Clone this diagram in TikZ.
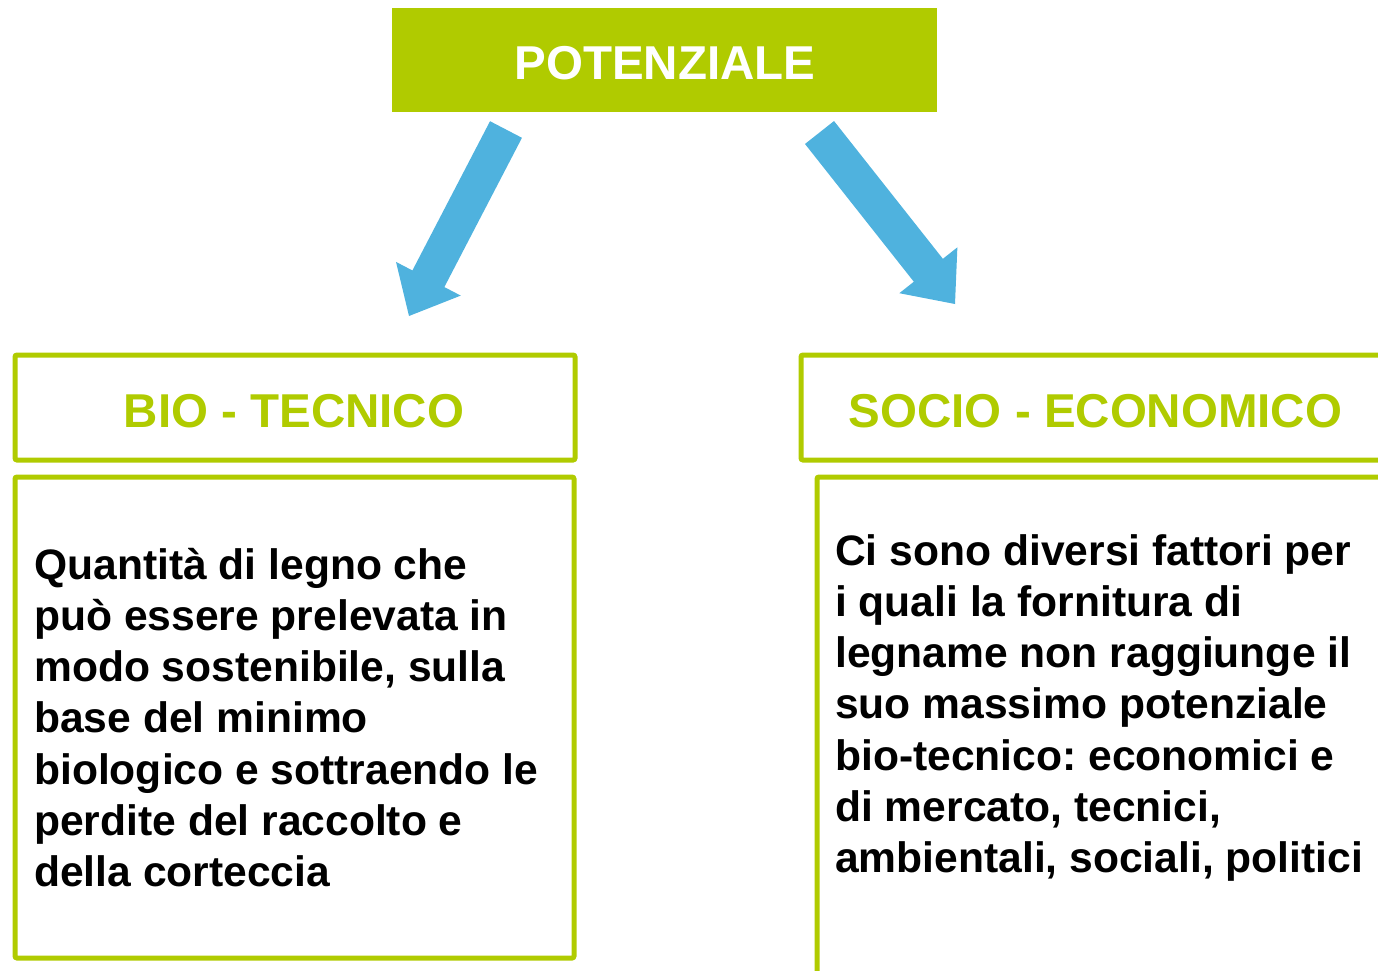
\documentclass[tikz,border=0pt]{standalone}
\usepackage{fontspec}
\setmainfont{Liberation Sans}
\usetikzlibrary{calc}
\definecolor{lime}{RGB}{176,203,0}
\definecolor{arrblue}{RGB}{79,178,222}
\frenchspacing
\begin{document}
\begin{tikzpicture}[x=1pt,y=-1pt,
  box/.style={draw=lime,line width=5pt,rounded corners=2pt,inner sep=0pt},
  ttl/.style={font=\fontsize{47.5}{57}\selectfont\bfseries,text=lime,inner sep=0pt,anchor=base},
  body/.style={font=\fontsize{42.6}{51.3}\selectfont\bfseries,inner sep=0pt,anchor=base west}]
\useasboundingbox (0,0) rectangle (1378,970);
\clip (0,0) rectangle (1378,970);
% top box
\node (pot) [fill=lime,inner sep=0pt,minimum width=545pt,minimum height=104pt] at (664.5,60) {};
\node (pottext) [ttl,text=white] at (665,79) {POTENZIALE};
% left boxes
\node (bt) [box,minimum width=560pt,minimum height=105pt] at (295,407.5) {};
\node (bttext) [ttl] at (294,427) {BIO - TECNICO};
\node (btbody) [box,minimum width=559pt,minimum height=481pt] at (294.5,717.5) {};
\node (bttxt) [body] at (34,579) {\parbox[t]{560pt}{\raggedright Quantità di legno che\\
può essere prelevata in\\
modo sostenibile, sulla\\
base del minimo\\
biologico e sottraendo le\\
perdite del raccolto e\\
della corteccia}};
% right boxes
\node (se) [box,minimum width=599pt,minimum height=105pt] at (1100.5,407.5) {};
\node (setext) [ttl] at (1095.5,427) {SOCIO - ECONOMICO};
\node (sebody) [box,minimum width=583pt,minimum height=523pt] at (1108.5,738.5) {};
\node (setxt) [body] at (835,565) {\parbox[t]{560pt}{\raggedright Ci sono diversi fattori per\\
i quali la fornitura di\\
legname non raggiunge il\\
suo massimo potenziale\\
bio-tecnico: economici e\\
di mercato, tecnici,\\
ambientali, sociali, politici}};
% arrows
\coordinate (la1) at (506,129.5);
\coordinate (la2) at (409,316);
\coordinate (lh) at ($(la2)!42pt!(la1)$);
\fill[arrblue] ($(la1)!18pt!90:(la2)$) -- ($(lh)!18pt!90:(la2)$) -- ($(lh)!36.5pt!90:(la2)$) -- (la2)
  -- ($(lh)!36.5pt!-90:(la2)$) -- ($(lh)!18pt!-90:(la2)$) -- ($(la1)!18pt!-90:(la2)$) -- cycle;
\coordinate (ra1) at (819.5,132.5);
\coordinate (ra2) at (955,304);
\coordinate (rh) at ($(ra2)!43pt!(ra1)$);
\fill[arrblue] ($(ra1)!18.5pt!90:(ra2)$) -- ($(rh)!18.5pt!90:(ra2)$) -- ($(rh)!37pt!90:(ra2)$) -- (ra2)
  -- ($(rh)!37pt!-90:(ra2)$) -- ($(rh)!18.5pt!-90:(ra2)$) -- ($(ra1)!18.5pt!-90:(ra2)$) -- cycle;
\end{tikzpicture}
\end{document}
